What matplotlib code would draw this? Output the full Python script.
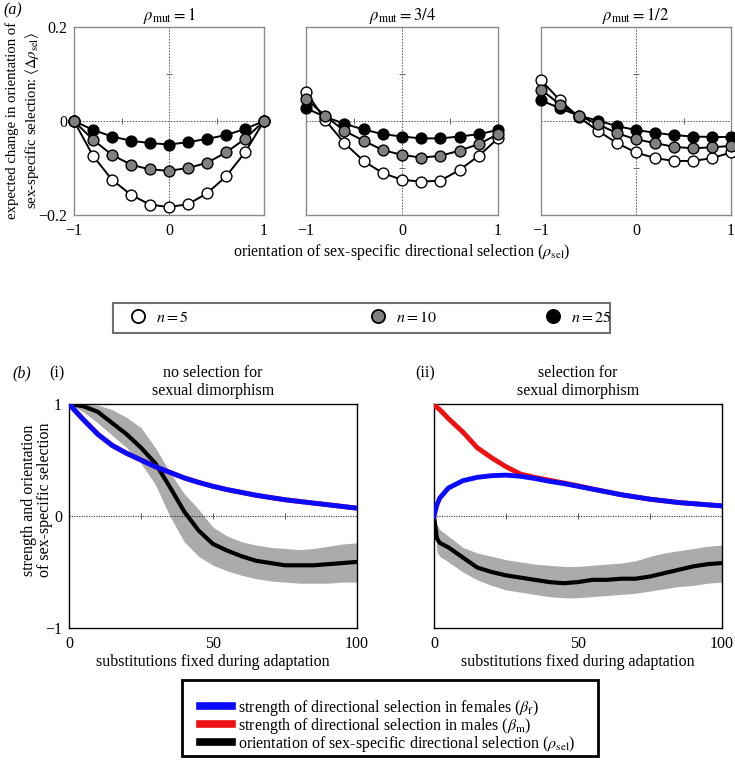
import matplotlib
matplotlib.use("Agg")
import matplotlib.pyplot as plt
from matplotlib.lines import Line2D
from matplotlib.patches import Rectangle

plt.rcParams['font.family'] = ['Liberation Serif', 'DejaVu Serif']
plt.rcParams['mathtext.fontset'] = 'stix'

# ---- panel (a) data: expected change in rho_sel vs rho_sel ----
rho_sel = [-1.0, -0.8, -0.6, -0.4, -0.2, 0.0, 0.2, 0.4, 0.6, 0.8, 1.0]

mut1_n5 = [0, -0.074, -0.125, -0.157, -0.178, -0.183, -0.177, -0.154, -0.118, -0.067, 0]
mut1_n10 = [0, -0.040, -0.072, -0.093, -0.103, -0.106, -0.100, -0.089, -0.067, -0.038, 0]
mut1_n25 = [0, -0.019, -0.033, -0.042, -0.047, -0.050, -0.045, -0.038, -0.030, -0.017, 0]

mut34_n5 = [0.062, 0.002, -0.047, -0.085, -0.111, -0.125, -0.129, -0.127, -0.104, -0.074, -0.037]
mut34_n10 = [0.047, 0.011, -0.021, -0.042, -0.062, -0.072, -0.078, -0.074, -0.063, -0.049, -0.028]
mut34_n25 = [0.027, 0.009, -0.006, -0.018, -0.028, -0.033, -0.037, -0.037, -0.033, -0.028, -0.019]

mut12_n5 = [0.087, 0.044, 0.008, -0.021, -0.047, -0.067, -0.079, -0.085, -0.085, -0.079, -0.067]
mut12_n10 = [0.067, 0.035, 0.011, -0.007, -0.026, -0.039, -0.047, -0.055, -0.058, -0.056, -0.053]
mut12_n25 = [0.044, 0.027, 0.011, 0.001, -0.011, -0.019, -0.025, -0.030, -0.033, -0.034, -0.034]

a_titles = [r'$\rho_{\mathrm{mut}}=1$', r'$\rho_{\mathrm{mut}}=3/4$', r'$\rho_{\mathrm{mut}}=1/2$']
a_ticks_x = [-1, 0, 1]
a_ticks_y = [-0.2, 0, 0.2]
a_minor_x = [-0.5, 0.5]
a_minor_y = [-0.1, 0.1]
n_labels = [r'$n=5$', r'$n=10$', r'$n=25$']

# ---- panel (b) data: substitutions fixed during adaptation ----
subs_i = [0, 5, 10, 15, 20, 25, 30, 35, 40, 45, 50, 55, 60, 65, 70, 75, 80, 85, 90, 95, 100]
beta_f_i = [1.0, 0.86, 0.73, 0.63, 0.56, 0.50, 0.44, 0.39, 0.34, 0.30, 0.265,
            0.235, 0.21, 0.185, 0.165, 0.145, 0.13, 0.115, 0.10, 0.085, 0.07]
beta_m_i = [1.0, 0.86, 0.73, 0.63, 0.56, 0.50, 0.44, 0.39, 0.34, 0.30, 0.265,
            0.235, 0.21, 0.185, 0.165, 0.145, 0.13, 0.115, 0.10, 0.085, 0.07]
rho_i = [1.0, 0.98, 0.93, 0.83, 0.73, 0.61, 0.47, 0.26, 0.04, -0.13, -0.25,
         -0.31, -0.36, -0.40, -0.42, -0.44, -0.44, -0.44, -0.43, -0.42, -0.41]
rho_i_hi = [1.0, 1.0, 0.99, 0.95, 0.88, 0.79, 0.61, 0.39, 0.20, 0.06, -0.10,
            -0.18, -0.23, -0.26, -0.28, -0.29, -0.30, -0.29, -0.27, -0.25, -0.24]
rho_i_lo = [1.0, 0.93, 0.83, 0.72, 0.61, 0.47, 0.28, 0.00, -0.23, -0.36, -0.44,
            -0.49, -0.53, -0.56, -0.58, -0.59, -0.60, -0.60, -0.60, -0.59, -0.59]

subs_ii = [0, 1, 2, 5, 10, 15, 20, 25, 30, 35, 40, 45, 50, 55, 60, 65, 70, 75, 80, 85, 90, 95, 100]
beta_f_ii = [0.0, 0.10, 0.16, 0.25, 0.315, 0.345, 0.36, 0.365, 0.355, 0.335, 0.31, 0.29,
             0.265, 0.24, 0.215, 0.19, 0.17, 0.15, 0.135, 0.12, 0.11, 0.10, 0.09]
beta_m_ii = [1.0, 0.97, 0.95, 0.87, 0.75, 0.61, 0.52, 0.44, 0.375, 0.345, 0.32, 0.295,
             0.27, 0.242, 0.216, 0.19, 0.17, 0.15, 0.135, 0.12, 0.11, 0.10, 0.09]
rho_ii = [0.0, -0.20, -0.24, -0.28, -0.37, -0.46, -0.50, -0.53, -0.55, -0.57, -0.59, -0.60,
          -0.59, -0.57, -0.57, -0.56, -0.56, -0.54, -0.51, -0.48, -0.45, -0.43, -0.42]
rho_ii_hi = [0.0, -0.08, -0.12, -0.18, -0.28, -0.33, -0.36, -0.39, -0.41, -0.43, -0.44, -0.45,
             -0.45, -0.44, -0.43, -0.42, -0.40, -0.36, -0.33, -0.31, -0.29, -0.27, -0.26]
rho_ii_lo = [0.0, -0.32, -0.36, -0.41, -0.50, -0.57, -0.62, -0.66, -0.68, -0.70, -0.72, -0.73,
             -0.73, -0.72, -0.71, -0.70, -0.69, -0.67, -0.65, -0.63, -0.62, -0.60, -0.59]

b_ticks_x = [0, 50, 100]
b_ticks_y = [-1, 0, 1]
b_minor_x = [25, 50, 75]
b_legend = [r'strength of directional selection in females ($\beta_{\mathrm{f}}$)',
            r'strength of directional selection in males ($\beta_{\mathrm{m}}$)',
            r'orientation of sex-specific directional selection ($\rho_{\mathrm{sel}}$)']

W, H = 735, 763
FS = 11.5
BLUE = '#0a0aff'
RED = '#ee1111'


def add_px_axes(fig, x0, y0, x1, y1):
    """
    Add axes given pixel box (top-left origin).
    """
    return fig.add_axes([x0 / W, 1 - y1 / H, (x1 - x0) / W, (y1 - y0) / H])


def minus(v):
    s = f"{v:g}"
    return s.replace('-', '\u2212')


fig = plt.figure(figsize=(W / 100, H / 100), dpi=100)

# ---------------- panel (a) ----------------
a_sets = [(mut1_n5, mut1_n10, mut1_n25), (mut34_n5, mut34_n10, mut34_n25),
          (mut12_n5, mut12_n10, mut12_n25)]
a_boxes = [(74, 264), (306, 498), (541, 731)]
for i, ((x0, x1), (n5, n10, n25)) in enumerate(zip(a_boxes, a_sets)):
    ax = add_px_axes(fig, x0, 27, x1, 215)
    ax.set_xlim(-1, 1)
    ax.set_ylim(-0.2, 0.2)
    ax.axvline(0, color='#555555', ls=(0, (1.5, 1.5)), lw=0.7, zorder=1)
    ax.axhline(0, color='#555555', ls=(0, (1.5, 1.5)), lw=0.7, zorder=1)
    ax.plot(a_minor_x, [0] * len(a_minor_x), ls='none', marker='|', ms=5, mew=0.7, color='#666666')
    ax.plot([0] * len(a_minor_y), a_minor_y, ls='none', marker='_', ms=5, mew=0.7, color='#666666')
    for vals, fc in ((n25, 'black'), (n5, 'white'), (n10, '#808080')):
        ax.plot(rho_sel, vals, color='black', lw=1.4, marker='o', ms=7.8, mfc=fc,
                mec='black', mew=1.0, clip_on=False, zorder=3)
    for sp in ax.spines.values():
        sp.set_color('#8a8a8a')
        sp.set_linewidth(1.0)
    ax.set_xticks(a_ticks_x)
    ax.set_xticklabels([minus(v) for v in a_ticks_x])
    if i == 0:
        ax.set_yticks(a_ticks_y)
        ax.set_yticklabels([minus(v) for v in a_ticks_y])
    else:
        ax.set_yticks([])
    ax.tick_params(length=0, labelsize=FS, pad=6)
    ax.tick_params(axis='y', pad=5)
    ax.set_title(a_titles[i], fontsize=12, pad=5)

fig.text(3 / W, 1 - 10 / H, '(a)', fontsize=FS, style='italic', va='center')
fig.text(23 / W, 1 - 120 / H,
         'expected change in orientation of\n'
         r'sex-specific selection: $\langle\Delta\rho_{\mathrm{sel}}\rangle$',
         rotation=90, ha='center', va='center', ma='center', fontsize=10.6, linespacing=1.25)
fig.text(402 / W, 1 - 252 / H,
         r'orientation of sex-specific directional selection ($\rho_{\mathrm{sel}}$)',
         ha='center', va='center', fontsize=FS)

# legend for panel (a)
fig.patches.append(Rectangle((113 / W, 1 - 333 / H), (610 - 113) / W, 30 / H,
                             transform=fig.transFigure, fill=False,
                             edgecolor='#707070', lw=1.5))
for fc, lab, xp in zip(('white', '#808080', 'black'), n_labels, (130, 370, 545)):
    h = Line2D([], [], ls='none', marker='o', ms=9.5, mfc=fc, mec='black', mew=1.3)
    fig.legend(handles=[h], labels=[lab], loc='center left',
               bbox_to_anchor=(xp / W, 1 - 318 / H), frameon=False,
               handlelength=1.0, handletextpad=0.6, borderpad=0, borderaxespad=0,
               fontsize=FS)

# ---------------- panel (b) ----------------
b_sets = [
    (subs_i, beta_f_i, beta_m_i, rho_i, rho_i_hi, rho_i_lo, (69, 357)),
    (subs_ii, beta_f_ii, beta_m_ii, rho_ii, rho_ii_hi, rho_ii_lo, (434, 722)),
]
b_lines = []
for i, (x, bf, bm, rho, hi, lo, (x0, x1)) in enumerate(b_sets):
    ax = add_px_axes(fig, x0, 404, x1, 628)
    ax.set_xlim(0, 100)
    ax.set_ylim(-1, 1)
    ax.fill_between(x, lo, hi, color='#ababab', lw=0, zorder=1)
    ax.axhline(0, color='#333333', ls=(0, (1, 1.2)), lw=0.8, zorder=1.5)
    ax.plot(b_minor_x, [0] * len(b_minor_x), ls='none', marker='|', ms=5, mew=0.7, color='#555555')
    l_rho, = ax.plot(x, rho, color='black', lw=3.0, zorder=2)
    l_m, = ax.plot(x, bm, color=RED, lw=3.5, zorder=3)
    l_f, = ax.plot(x, bf, color=BLUE, lw=3.5, zorder=4)
    b_lines = [l_f, l_m, l_rho]
    for sp in ax.spines.values():
        sp.set_color('black')
        sp.set_linewidth(1.0)
    ax.set_xticks(b_ticks_x)
    ax.set_xticklabels([minus(v) for v in b_ticks_x])
    if i == 0:
        ax.set_yticks(b_ticks_y)
        ax.set_yticklabels([minus(v) for v in b_ticks_y])
    else:
        ax.set_yticks([])
    ax.tick_params(length=0, labelsize=FS, pad=6)
    ax.tick_params(axis='y', pad=5)
    fig.text((x0 + x1) / 2 / W, 1 - 662 / H, 'substitutions fixed during adaptation',
             ha='center', va='center', fontsize=FS)

fig.text(12 / W, 1 - 373 / H, '(b)', fontsize=FS, style='italic', va='center')
fig.text(49 / W, 1 - 373 / H, '(i)', fontsize=FS, va='center')
fig.text(415 / W, 1 - 373 / H, '(ii)', fontsize=FS, va='center')
fig.text(213 / W, 1 - 382 / H, 'no selection for\nsexual dimorphism',
         ha='center', va='center', fontsize=FS, linespacing=1.1)
fig.text(578 / W, 1 - 382 / H, 'selection for\nsexual dimorphism',
         ha='center', va='center', fontsize=FS, linespacing=1.1)
fig.text(37 / W, 1 - 500 / H, 'strength and orientation\nof sex-specific selection',
         rotation=90, ha='center', va='center', ma='center', fontsize=FS, linespacing=1.05)

# legend for panel (b)
fig.patches.append(Rectangle((182 / W, 1 - 756 / H), (598 - 182) / W, 76 / H,
                             transform=fig.transFigure, fill=False,
                             edgecolor='black', lw=2.0))
handles = [Line2D([], [], color=l.get_color(), lw=5.5) for l in b_lines]
fig.legend(handles=handles, labels=b_legend, loc='center left',
           bbox_to_anchor=(200 / W, 1 - 726 / H), frameon=False,
           handlelength=2.0, handletextpad=0.4, labelspacing=-0.12,
           borderpad=0, borderaxespad=0, fontsize=FS)

fig.savefig('out.png', dpi=100)
